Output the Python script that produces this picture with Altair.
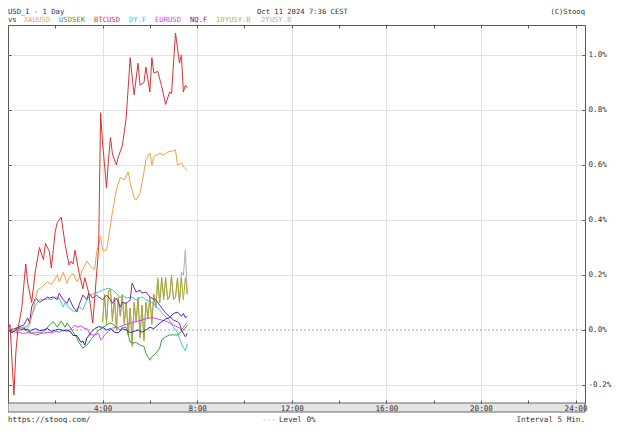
import altair as alt
import pandas as pd

# ---------------- data (minutes since 0:00, change in %) ----------------
usdi_t = [0,5,10,15,20,25,30,35,40,45,50,55,60,70,80,90,100,110,120,130,140,150,160,165,175,185,190,195,200,210,220,230,240,250,260,270,280,290,300,310,320,330,340,350,360,370,380,390,400,410,420,430,440,445,450,455]
usdi_v = [0,-0.005,-0.01,-0.005,0,0.01,0.005,0,0.008,0,0.003,-0.005,0,0.005,-0.003,0,0.005,-0.005,0,0.003,-0.003,0,-0.008,-0.02,-0.02,-0.045,-0.04,-0.055,-0.03,-0.01,0.005,0.012,0.01,0,0.005,-0.008,-0.01,0.005,0,-0.01,-0.005,0,-0.008,0,0.01,0.005,0.018,0.03,0.04,0.045,0.06,0.065,0.05,0.06,0.045,0.05]

xau_t = [0,10,20,30,40,50,55,65,75,85,100,110,125,130,140,150,155,165,175,180,190,200,210,220,225,235,240,250,260,265,275,285,295,305,310,320,325,335,345,350,360,365,370,385,395,405,415,425,430,440,445,455]
xau_v = [0,0.005,-0.005,0,0.01,0.005,0.02,0.08,0.145,0.155,0.175,0.165,0.2,0.175,0.21,0.17,0.19,0.205,0.175,0.19,0.22,0.25,0.23,0.22,0.285,0.34,0.29,0.29,0.38,0.43,0.51,0.555,0.545,0.575,0.535,0.48,0.473,0.497,0.575,0.62,0.643,0.6,0.63,0.643,0.636,0.647,0.65,0.655,0.6,0.607,0.593,0.58]

sek_t = [0,10,20,30,40,50,60,70,80,90,95,105,115,125,135,145,150,160,175,180,190,200,210,220,230,240,250,260,265,275,285,290,300,310,320,325,335,345,350,360,365,375,385,390,400,410,420,430,435,440,450,455]
sek_v = [0,0.003,-0.003,0,0.003,-0.005,-0.01,-0.018,-0.015,-0.005,0,0.018,0.03,0.01,0.033,0.01,0.025,0.005,-0.03,-0.045,-0.066,-0.055,-0.036,-0.018,0,0.007,0.018,0.025,0.022,0.01,0,0.01,0.01,-0.044,-0.048,-0.045,-0.055,-0.06,-0.085,-0.11,-0.097,-0.085,-0.066,-0.036,-0.025,-0.018,-0.018,-0.018,-0.012,-0.006,0.007,0.018]

btc_t = [0,5,15,20,25,35,45,50,60,70,80,90,95,105,110,120,125,135,145,155,160,165,170,180,190,195,205,215,220,230,235,240,245,250,255,260,265,270,275,280,290,295,300,310,315,320,330,335,345,350,360,365,370,380,390,400,410,415,425,435,440,445,450,455]
btc_v = [0,0.02,-0.236,-0.08,0,0.08,0.24,0.17,0.10,0.22,0.30,0.255,0.315,0.285,0.225,0.36,0.39,0.41,0.31,0.236,0.25,0.24,0.29,0.21,0.15,0.19,0.134,0.025,0.116,0.30,0.79,0.68,0.60,0.516,0.62,0.70,0.64,0.62,0.60,0.63,0.67,0.72,0.775,0.99,0.92,0.855,0.97,0.89,0.90,0.956,0.865,0.99,0.935,0.94,0.885,0.82,0.865,0.86,1.08,0.97,1.0,0.865,0.89,0.88]

dy_t = [0,10,20,30,40,50,55,60,70,80,90,100,110,120,130,140,145,155,170,180,190,200,210,220,230,240,255,265,275,285,290,300,315,325,340,350,365,385,395,410,420,430,435,440,445,450,455]
dy_v = [0,0,0.005,0.01,0.01,0.015,0.03,0.05,0.09,0.11,0.11,0.113,0.11,0.12,0.116,0.084,0.10,0.08,0.065,0.085,0.073,0.11,0.127,0.134,0.138,0.145,0.152,0.145,0.134,0.116,0.127,0.116,0.12,0.11,0.12,0.11,0.10,0.073,0.055,0.036,0.01,-0.01,-0.03,-0.048,-0.065,-0.075,-0.05]

eur_t = [0,10,20,30,40,50,60,70,80,90,100,110,120,130,140,150,160,170,175,185,195,200,210,220,230,235,240,245,255,265,280,295,310,325,340,355,370,390,405,420,435,440,445,450,455]
eur_v = [0,-0.005,-0.008,-0.01,-0.012,-0.01,-0.012,-0.008,-0.01,-0.012,-0.008,-0.01,-0.005,-0.008,0,-0.005,0.005,0.018,0.01,0.015,0.005,0.005,-0.018,-0.018,-0.012,-0.036,-0.03,-0.018,-0.005,0.007,0.01,0.018,0.025,0.03,0.036,0.044,0.044,0.036,0.03,0.018,0.007,0,0.01,0.02,0.025]

nq_t = [0,10,25,40,50,55,60,70,80,90,100,105,115,125,130,140,150,155,165,175,180,190,200,205,215,225,230,240,250,260,265,275,285,290,300,310,315,325,335,340,350,360,365,375,385,390,400,410,420,430,435,440,450,455]
nq_v = [0,0,0.01,0.018,0.044,0.025,0.084,0.116,0.10,0.11,0.12,0.116,0.12,0.11,0.134,0.11,0.097,0.116,0.084,0.066,0.09,0.127,0.11,0.134,0.116,0.127,0.12,0.11,0.127,0.11,0.097,0.116,0.084,0.10,0.097,0.11,0.17,0.138,0.145,0.134,0.138,0.12,0.116,0.11,0.09,0.08,0.062,0.048,0.036,0.03,0.025,0.0,-0.025,-0.012]

bond_t = [240,245,250,255,260,265,270,275,280,285,290,295,300,305,310,315,320,325,330,335,340,345,350,355,360,365,370,375,380,385,390,395,400,405,410,415,420,425,430,435,440,445,450,455]
y10_v = [0.03,0.13,0.02,0.14,0.15,0.03,0.12,0.00,0.12,0.05,0.13,0.02,0.10,-0.02,0.08,-0.06,0.10,0.03,0.12,-0.03,0.09,-0.04,0.10,0.04,0.12,0.02,0.13,0.08,
         0.19,0.10,0.19,0.11,0.19,0.11,0.12,0.20,0.11,0.12,0.19,0.10,0.19,0.11,0.19,0.13]
y2_v = [0.03,0.12,0.03,0.14,0.14,0.04,0.12,0.01,0.11,0.05,0.12,0.03,0.10,-0.01,0.08,-0.05,0.10,0.03,0.11,-0.02,0.09,-0.03,0.10,0.05,0.12,0.03,0.13,0.08,
        0.18,0.10,0.19,0.12,0.19,0.12,0.12,0.19,0.11,0.12,0.18,0.10,0.21,0.20,0.29,0.13]

# drawing order (bottom first): name, times, values, line colour
series = [
    ("2YUSY.B", bond_t, y2_v, "#adadad"),
    ("10YUSY.B", bond_t, y10_v, "#a8a832"),
    ("DY.F", dy_t, dy_v, "#3cc4e6"),
    ("USDSEK", sek_t, sek_v, "#3c9e3c"),
    ("EURUSD", eur_t, eur_v, "#e040e0"),
    ("NQ.F", nq_t, nq_v, "#7a2aa0"),
    ("USD_I", usdi_t, usdi_v, "#2626d2"),
    ("XAUUSD", xau_t, xau_v, "#f0a040"),
    ("BTCUSD", btc_t, btc_v, "#e03030"),
]

legend_items = [  # (label, x offset px, colour)
    ("XAUUSD", 16, "#f0aa50"),
    ("USDSEK", 51, "#3c9e3c"),
    ("BTCUSD", 86, "#e03030"),
    ("DY.F", 121, "#3cc4e6"),
    ("EURUSD", 147, "#e040e0"),
    ("NQ.F", 182, "#802080"),
    ("10YUSY.B", 208, "#b4b45a"),
    ("2YUSY.B", 253, "#b0b0b0"),
]

y_ticks = [-0.2, 0.0, 0.2, 0.4, 0.6, 0.8, 1.0]
y_grid = [-0.2, 0.2, 0.4, 0.6, 0.8, 1.0]
x_grid = [4, 8, 12, 16, 20, 24]
x_ticks = [2, 4, 6, 8, 10, 12, 14, 16, 18, 20, 22, 24]

# ---------------- chart ----------------
W, H = 577, 378
FONT = "DejaVu Sans Mono"
FS = 7.6
HFS = 7.2
TXT = "#333333"
TICK = "#555555"

xs = alt.Scale(domain=[0, 24.4], nice=False, zero=False)
ys = alt.Scale(domain=[-0.2655, 1.109], nice=False, zero=False)

one = pd.DataFrame({"a": [0]})

# grid + level 0% line
zero_df = pd.DataFrame({"h": [0, 24.4], "v": [0, 0]})
grid_layer = alt.Chart(zero_df).mark_line(color="#a8a8a8", strokeDash=[2, 2], strokeWidth=1).encode(
    x=alt.X("h:Q", scale=xs, axis=alt.Axis(values=x_grid, grid=True, gridColor="#e2e2e2",
                                             labels=False, ticks=False, domain=False, title=None)),
    y=alt.Y("v:Q", scale=ys, axis=alt.Axis(values=y_grid, grid=True, gridColor="#e2e2e2",
                                             labels=False, ticks=False, domain=False, title=None)),
)

band = alt.Chart(one).mark_rect(fill="#e4e4e4", stroke="#666666", strokeWidth=1).encode(
    x=alt.value(0), x2=alt.value(W), y=alt.value(H), y2=alt.value(H + 9)
)

bottom_x = alt.Axis(orient="bottom", values=x_ticks, offset=-3, tickSize=3, tickColor=TICK,
                    domain=False, grid=False, title=None, zindex=2, labelPadding=1,
                    labelOverlap=False, labelFlush=False,
                    labelExpr="datum.value % 4 == 0 ? datum.value + ':00' : ''")
top_x = alt.Axis(orient="top", values=x_ticks, offset=-3, tickSize=3, tickColor=TICK,
                 domain=False, grid=False, labels=False, title=None, zindex=2)
right_y = alt.Axis(orient="right", values=y_ticks, offset=-3, tickSize=3, tickColor=TICK,
                   domain=False, grid=False, title=None, zindex=2, labelPadding=3,
                   labelOverlap=False, labelFlush=False,
                   labelExpr="replace(format(datum.value, '.1f'), '\u2212', '-') + '%'")
left_y = alt.Axis(orient="left", values=y_ticks, offset=-3, tickSize=3, tickColor=TICK,
                  domain=False, grid=False, labels=False, title=None, zindex=2)

line_layers = []
for i, (name, t, v, col) in enumerate(series):
    df = pd.DataFrame({"h": [m / 60 for m in t], "v": v})
    if i == 0:
        xa, ya = bottom_x, right_y
    elif i == 1:
        xa, ya = top_x, left_y
    else:
        xa, ya = None, None
    line_layers.append(
        alt.Chart(df).mark_line(color=col, strokeWidth=1).encode(
            x=alt.X("h:Q", scale=xs, axis=xa),
            y=alt.Y("v:Q", scale=ys, axis=ya),
        )
    )


def label(text, x, y, color=TXT, align="left", size=FS):
    return alt.Chart(one).mark_text(text=text, font=FONT, fontSize=size, color=color,
                                    align=align, baseline="middle").encode(
        x=alt.value(x), y=alt.value(y))


ROW1, ROW2 = -13.2, -5.0
texts = [
    label("USD_I - 1 Day", 0, ROW1, "#2a2a8a", size=HFS),
    label("Oct 11 2024 7:36 CEST", 249, ROW1, size=HFS),
    label("(C)Stooq", W, ROW1, align="right", size=HFS),
    label("vs", 0, ROW2, size=HFS),
]
for name, xo, col in legend_items:
    texts.append(label(name, xo, ROW2, col, size=HFS))
texts += [
    label("https://stooq.com/", 0, 395),
    label("---", 254, 395, "#b0b0b0"),
    label("Level 0%", 271, 395),
    label("Interval 5 Min.", W, 395, align="right"),
]

chart = alt.layer(grid_layer, band, *line_layers, *texts).resolve_axis(
    x="independent", y="independent"
).properties(
    width=W, height=H,
    autosize=alt.AutoSizeParams(type="none"),
    padding={"left": 0, "top": 17, "right": 28, "bottom": 23},
).configure_view(
    stroke="#5a5a5a", strokeWidth=1
).configure_axis(
    labelFont=FONT, labelFontSize=FS, labelColor=TXT
)

chart.save("out.html", embed_options={"renderer": "svg", "actions": False})
